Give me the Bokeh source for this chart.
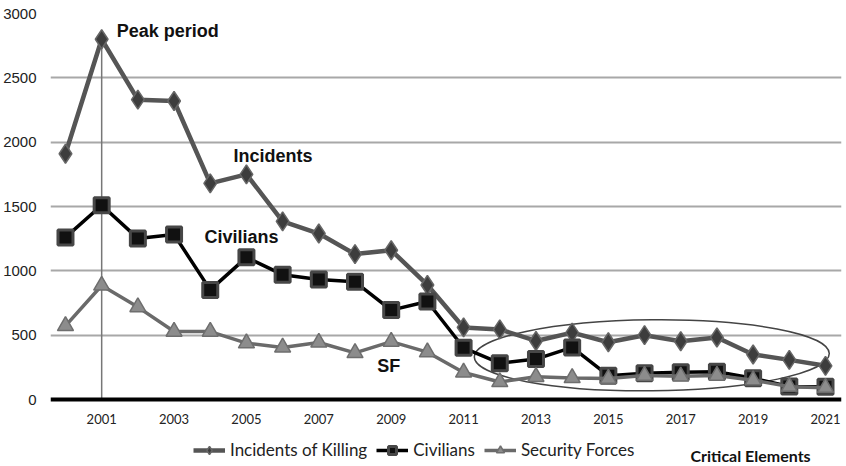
from bokeh.plotting import figure
from bokeh.models import Range1d, FixedTicker, Label, Legend, LegendItem, Span
from bokeh.core.properties import value
from bokeh.embed import file_html
from bokeh.resources import INLINE

years = list(range(2000, 2022))
incidents = [1910, 2800, 2330, 2320, 1680, 1750, 1385, 1290, 1130, 1160, 890,
             560, 545, 455, 520, 445, 500, 453, 482, 350, 308, 262]
civilians = [1260, 1510, 1252, 1282, 852, 1105, 970, 932, 915, 695, 762,
             402, 282, 314, 405, 185, 205, 212, 215, 165, 102, 100]
security = [572, 886, 718, 528, 528, 438, 405, 443, 362, 450, 368,
            210, 136, 176, 168, 163, 186, 180, 186, 150, 100, 92]
x_ticks = list(range(2001, 2022, 2))
x_tick_labels = [str(y) for y in x_ticks]
y_ticks = [0, 500, 1000, 1500, 2000, 2500, 3000]
peak_year = 2001
critical_years = list(range(2012, 2022))

FONT = "Lato"

p = figure(width=846, height=466, output_backend="svg", toolbar_location=None,
           x_range=Range1d(1999.586, 2021.442), y_range=Range1d(-520.7, 3000),
           min_border_left=50, min_border_right=5, min_border_top=13,
           min_border_bottom=0)
p.outline_line_color = None
p.background_fill_color = "white"
p.border_fill_color = "white"

# axes
p.xaxis.visible = False
p.yaxis.ticker = FixedTicker(ticks=y_ticks)
p.yaxis.major_tick_line_color = None
p.yaxis.minor_tick_line_color = None
p.yaxis.axis_line_color = None
p.yaxis.major_label_text_font = "Liberation Sans"
p.yaxis.major_label_text_font_size = "15px"
p.yaxis.major_label_text_color = "#222222"
p.yaxis.major_label_standoff = 8
p.xgrid.grid_line_color = None
p.ygrid.ticker = FixedTicker(ticks=[500, 1000, 1500, 2000, 2500])
p.ygrid.grid_line_color = "#a8a8a8"
p.ygrid.grid_line_width = 2

p.add_layout(Span(location=0, dimension="width", line_color="black",
                  line_width=4))
p.text(x=x_ticks, y=[0] * len(x_ticks), text=x_tick_labels, y_offset=19,
       text_font=value(FONT), text_font_size="13px", text_color="#222222",
       text_align="center", text_baseline="middle")

# peak vertical line
pi = years.index(peak_year)
p.segment(x0=[peak_year], y0=[0], x1=[peak_year], y1=[incidents[pi]],
          line_color="#777777", line_width=1.5)

# critical ellipse around 2012-2021
cx = (critical_years[0] + critical_years[-1]) / 2 - 0.3
ci = [years.index(y) for y in critical_years]
cy = (max(incidents[i] for i in ci) + min(security[i] for i in ci)) / 2 + 25
p.ellipse(x=[cx], y=[cy], width=355, height=71, width_units="screen",
          height_units="screen", angle=0.01, fill_color=None,
          line_color="#444444", line_width=1.5)

# series
r1l = p.line(years, incidents, line_color="#555555", line_width=4.5)
r1m = p.scatter(years, incidents, marker="diamond", size=19,
                fill_color="#3d3d3d", line_color="#666666", line_width=1.5)
r2l = p.line(years, civilians, line_color="#000000", line_width=3.5)
r2m = p.scatter(years, civilians, marker="square", size=15,
                fill_color="#111111", line_color="#474747", line_width=3)
r3l = p.line(years, security, line_color="#6a6a6a", line_width=3.5)
r3m = p.scatter(years, security, marker="triangle", size=16,
                fill_color="#8c8c8c", line_color="#6e6e6e", line_width=1.5)

legend = Legend(items=[
    LegendItem(label="Incidents of Killing", renderers=[r1l, r1m]),
    LegendItem(label="Civilians", renderers=[r2l, r2m]),
    LegendItem(label="Security Forces", renderers=[r3l, r3m]),
], orientation="horizontal", location=(143, 6))
legend.label_text_font = FONT
legend.label_text_font_size = "17px"
legend.label_text_color = "#222222"
legend.glyph_width = 32
legend.glyph_height = 20
legend.label_height = 20
legend.label_standoff = 5
legend.spacing = 9
legend.padding = 0
legend.margin = 0
legend.border_line_color = None
legend.background_fill_alpha = 0
p.add_layout(legend, "center")

# annotations
bold = dict(text_font="Liberation Sans", text_font_style="bold",
            text_font_size="18px", text_color="#111111", text_baseline="middle")
p.add_layout(Label(x=peak_year, y=incidents[pi], x_offset=15, y_offset=8,
                   text="Peak period", **bold))
i05 = years.index(2005)
p.add_layout(Label(x=2005, y=incidents[i05], x_offset=-13, y_offset=18,
                   text="Incidents", **bold))
p.add_layout(Label(x=2005, y=civilians[i05], x_offset=-42, y_offset=20,
                   text="Civilians", **bold))
i09 = years.index(2009)
p.add_layout(Label(x=2009, y=security[i09], x_offset=-14, y_offset=-24,
                   text="SF", **bold))
p.add_layout(Label(x=640, y=11, x_units="screen", y_units="screen",
                   text="Critical Elements", text_font=FONT,
                   text_font_style="bold", text_font_size="16px",
                   text_color="#111111", text_baseline="middle"))

open("out.html", "w").write(file_html(p, INLINE))
